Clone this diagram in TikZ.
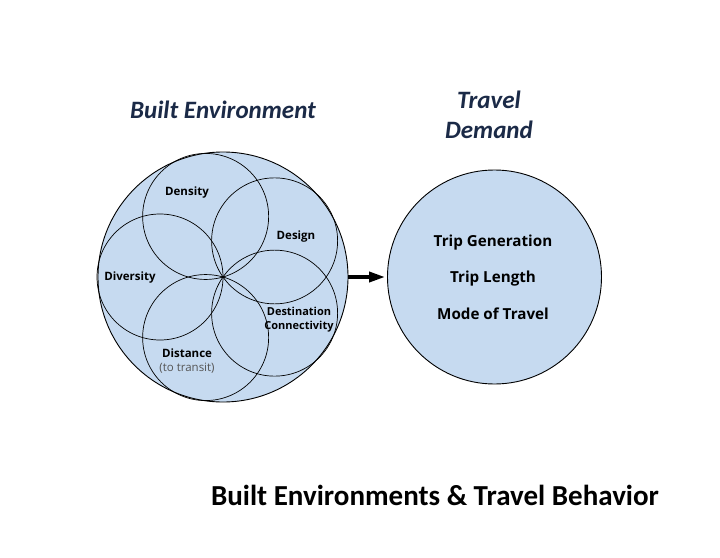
\documentclass[tikz,border=0pt]{standalone}
\usepackage{fontspec}
\setmainfont{Carlito}
\newfontfamily\lblfont{Open Sans}
\usetikzlibrary{arrows.meta,positioning,calc}
\definecolor{beFill}{HTML}{C6DAF0}
\definecolor{beNavy}{HTML}{1B2A47}
\definecolor{beMute}{HTML}{555555}
\tikzset{
  bigcirc/.style={draw, circle, fill=beFill, line width=0.9pt, inner sep=0pt},
  dimcirc/.style={draw, circle, line width=0.7pt, minimum size=126pt, inner sep=0pt},
  dimlabel/.style={font=\lblfont\fontsize{11.5}{14}\selectfont\bfseries, align=center, inner sep=1pt},
  outlabel/.style={font=\lblfont\fontsize{15.2}{17}\selectfont\bfseries, inner sep=1pt},
  heading/.style={font=\fontsize{25}{30}\selectfont\bfseries\itshape, text=beNavy, align=center},
  maintitle/.style={font=\fontsize{29}{32}\selectfont\bfseries},
  linkarrow/.style={-{Triangle[length=16pt,width=10pt]}, line width=3.6pt, shorten >=2pt}
}
\begin{document}
\begin{tikzpicture}[x=1pt, y=1pt]
  \useasboundingbox (0,0) rectangle (720,-557);
  % the two big circles
  \node[bigcirc, minimum size=250pt] (env) at (223,-277) {};
  \node[bigcirc, minimum size=214pt] (dem) at (494.5,-277) {};
  % five D's, each through the centre
  \foreach \a [count=\i] in {180,106,35,-35,-106}
    \node[dimcirc] (dim\i) at ($(env.center)+(\a:63pt)$) {};
  \node[dimlabel] (diversity) at (130,-278) {Diversity};
  \node[dimlabel] (density) at (187,-193) {Density};
  \node[dimlabel] (design) at (296,-237) {Design};
  \node[dimlabel, font=\lblfont\fontsize{11}{14}\selectfont\bfseries] (destination) at (299,-320) {Destination\\Connectivity};
  \node[dimlabel] (distance) at (187,-361) {Distance\\{\mdseries\color{beMute}(to transit)}};
  % travel demand side
  \node[outlabel] (tripgen) at (493,-243) {Trip Generation};
  \node[outlabel] (triplen) at (493,-279) {Trip Length};
  \node[outlabel] (mode) at (493,-314) {Mode of Travel};
  \draw[linkarrow] (env.east) -- (dem.west);
  % headings
  \node[heading] (envhead) at (223,-110) {Built Environment};
  \node[heading] (demhead) at (489,-115) {Travel\\Demand};
  \node[maintitle] (caption) at (435,-495) {Built Environments \& Travel Behavior};
\end{tikzpicture}
\end{document}
